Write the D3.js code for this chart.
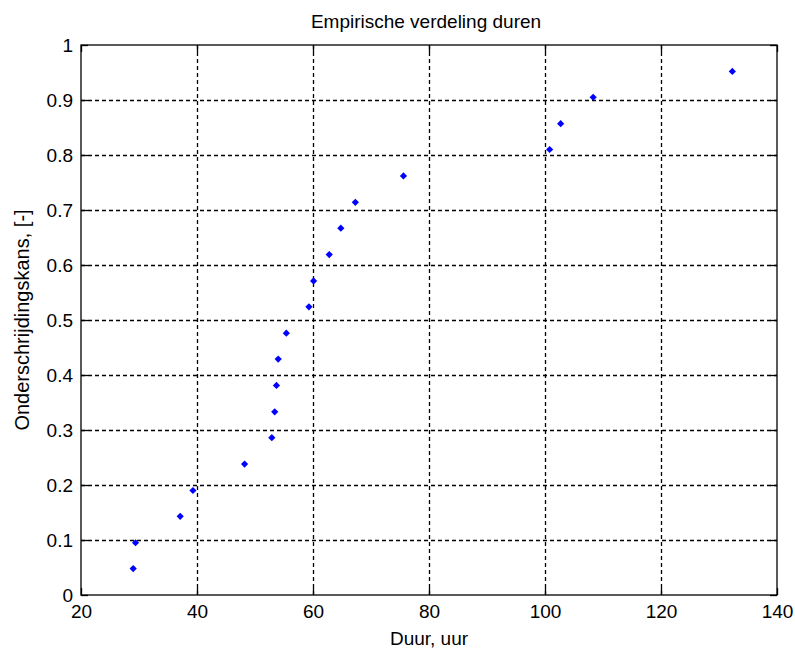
<!DOCTYPE html>
<html lang="nl"><head>
<meta charset="utf-8">
<title>Empirische verdeling duren</title>
<script src="https://cdn.jsdelivr.net/npm/d3@7"></script>
<style>
body { margin: 0; background: #fff; }
text { font-family: "Liberation Sans", Arial, sans-serif; fill: #000; }
</style>
</head>
<body>
<script type="text/javascript">

// durations (hours) and exceedance probabilities
var duur = [29.0, 29.4, 37.1, 39.3, 48.2, 52.9, 53.4, 53.7, 54.0, 55.4,
            59.3, 60.1, 62.8, 64.8, 67.3, 75.6, 100.8, 102.7, 108.3, 132.3];
var kans = [0.048, 0.095, 0.143, 0.190, 0.238, 0.286, 0.333, 0.381, 0.429, 0.476,
            0.524, 0.571, 0.619, 0.667, 0.714, 0.762, 0.810, 0.857, 0.905, 0.952];
var xTicks = [20, 40, 60, 80, 100, 120, 140];
var yTicks = [0, 0.1, 0.2, 0.3, 0.4, 0.5, 0.6, 0.7, 0.8, 0.9, 1];

var width = 795;
var height = 651;
var margin = {top: 45, right: 18, bottom: 56, left: 81};
var w = width - margin.left - margin.right;
var h = height - margin.top - margin.bottom;
var fontSize = "19px";

var svg = d3.select("body").append("svg")
            .attr("width", width)
            .attr("height", height);

var g = svg.append("g")
           .attr("transform", "translate(" + margin.left + "," + margin.top + ")");

var x = d3.scaleLinear().domain([20, 140]).range([0, w]);
var y = d3.scaleLinear().domain([0, 1]).range([h, 0]);

// grid
g.append("g").selectAll("line")
    .data(xTicks.slice(1, -1))
    .enter().append("line")
    .attr("x1", function(d){ return Math.round(x(d)) + 0.5; })
    .attr("x2", function(d){ return Math.round(x(d)) + 0.5; })
    .attr("y1", 0).attr("y2", h)
    .attr("stroke", "#000").attr("stroke-width", 1.3)
    .attr("stroke-dasharray", "4,3");

g.append("g").selectAll("line")
    .data(yTicks.slice(1, -1))
    .enter().append("line")
    .attr("x1", 0).attr("x2", w)
    .attr("y1", function(d){ return Math.round(y(d)) + 0.5; })
    .attr("y2", function(d){ return Math.round(y(d)) + 0.5; })
    .attr("stroke", "#000").attr("stroke-width", 1.3)
    .attr("stroke-dasharray", "4,3");

// axes with inward ticks on all sides
function styleAxis(sel) {
    sel.select(".domain").remove();
    sel.selectAll(".tick line").attr("stroke", "#000").attr("stroke-width", 1.3);
    sel.selectAll(".tick text")
       .style("font-family", "'Liberation Sans', Arial, sans-serif")
       .style("font-size", fontSize)
       .attr("fill", "#000");
}

g.append("g")
    .attr("transform", "translate(0," + h + ")")
    .call(d3.axisBottom(x).tickValues(xTicks).tickSize(-7).tickPadding(10)
          .tickFormat(d3.format("d")))
    .call(styleAxis);

g.append("g")
    .call(d3.axisTop(x).tickValues(xTicks).tickSize(-7).tickFormat(""))
    .call(styleAxis);

g.append("g")
    .call(d3.axisLeft(y).tickValues(yTicks).tickSize(-7).tickPadding(8)
          .tickFormat(function(d){ return d === 0 || d === 1 ? d : d3.format(".1f")(d); }))
    .call(styleAxis);

g.append("g")
    .attr("transform", "translate(" + w + ",0)")
    .call(d3.axisRight(y).tickValues(yTicks).tickSize(-7).tickFormat(""))
    .call(styleAxis);

// box
g.append("rect")
    .attr("x", 0).attr("y", 0)
    .attr("width", w).attr("height", h)
    .attr("fill", "none")
    .attr("stroke", "#000").attr("stroke-width", 1.3);

// points
g.append("g").selectAll("path")
    .data(duur.map(function(d, i){ return [d, kans[i]]; }))
    .enter().append("path")
    .attr("transform", function(d){ return "translate(" + x(d[0]) + "," + y(d[1]) + ") rotate(45)"; })
    .attr("d", d3.symbol().type(d3.symbolSquare).size(26))
    .attr("fill", "#0000ff");

// labels
svg.append("text")
    .attr("x", margin.left + w / 2 - 3).attr("y", 28)
    .attr("text-anchor", "middle")
    .style("font-size", fontSize)
    .text("Empirische verdeling duren");

svg.append("text")
    .attr("x", margin.left + w / 2).attr("y", 645)
    .attr("text-anchor", "middle")
    .style("font-size", fontSize)
    .text("Duur, uur");

svg.append("text")
    .attr("transform", "translate(29," + (margin.top + h / 2) + ") rotate(-90)")
    .attr("text-anchor", "middle")
    .style("font-size", "20px")
    .text("Onderschrijdingskans, [-]");

</script>
</body></html>
